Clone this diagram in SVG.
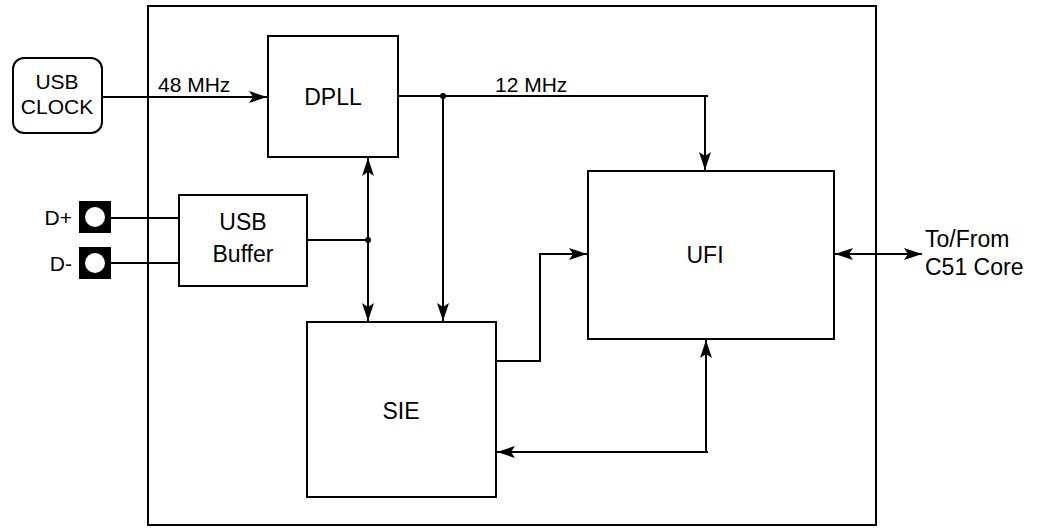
<svg xmlns="http://www.w3.org/2000/svg" width="1043" height="529" viewBox="0 0 1043 529">
<style>
.b{fill:#fff;stroke:#000;stroke-width:2}
.c{fill:none;stroke:#000;stroke-width:2}
.t{font-family:"Liberation Sans",Arial,sans-serif;fill:#000}
.s{font-size:21px}
.l{font-size:23px}
.m{text-anchor:middle}
.e{text-anchor:end}
</style>
<defs>
<marker id="ah" markerUnits="userSpaceOnUse" markerWidth="20" markerHeight="14" viewBox="-19 -7 20 14" refX="0" refY="0" orient="auto-start-reverse">
<path d="M0,0 L-18,-6 L-14,0 L-18,6 Z" fill="#000"/>
</marker>
</defs>
<g id="frame"><rect class="b" x="148" y="6" width="728" height="519"/></g>
<g id="usbclock"><rect class="b" x="13" y="58" width="89" height="75" rx="11"/>
<text class="t s m" x="57" y="89">USB</text><text class="t s m" x="57" y="114">CLOCK</text></g>
<g id="dpll"><rect class="b" x="268" y="36" width="130" height="121"/><text class="t l m" x="333" y="105">DPLL</text></g>
<g id="usbbuffer"><rect class="b" x="179" y="195" width="128" height="91"/>
<text class="t l m" x="243" y="230">USB</text><text class="t l m" x="243" y="262">Buffer</text></g>
<g id="sie"><rect class="b" x="307" y="322" width="189" height="175"/><text class="t l m" x="401" y="419">SIE</text></g>
<g id="ufi"><rect class="b" x="588" y="171" width="246" height="168"/><text class="t l m" x="705" y="263">UFI</text></g>
<g id="dplus"><rect x="79" y="201" width="32" height="32" fill="#000"/><circle cx="95" cy="217" r="10" fill="#fff"/>
<text class="t s e" x="72" y="225">D+</text></g>
<g id="dminus"><rect x="79" y="247" width="32" height="32" fill="#000"/><circle cx="95" cy="263" r="10" fill="#fff"/>
<text class="t s e" x="72" y="271">D-</text></g>
<g id="connectors">
<path class="c" d="M102,97 H267" marker-end="url(#ah)"/>
<text class="t s" x="158" y="92">48 MHz</text>
<path class="c" d="M398,96 H708"/>
<text class="t s" x="495" y="92">12 MHz</text>
<path class="c" d="M705,96 V170" marker-end="url(#ah)"/>
<path class="c" d="M443,96 V321" marker-end="url(#ah)"/>
<circle cx="443" cy="96" r="3" fill="#000"/>
<path class="c" d="M111,218 H179"/>
<path class="c" d="M111,263 H179"/>
<path class="c" d="M307,240 H368"/>
<path class="c" d="M368,158 V321" marker-start="url(#ah)" marker-end="url(#ah)"/>
<circle cx="368" cy="240" r="3" fill="#000"/>
<path class="c" d="M496,361 H540 V254 H587" marker-end="url(#ah)"/>
<path class="c" d="M708,452 H497" marker-end="url(#ah)"/>
<path class="c" d="M706,452 V340" marker-end="url(#ah)"/>
<path class="c" d="M835,254 H922" marker-start="url(#ah)" marker-end="url(#ah)"/>
<text class="t l" x="925" y="247">To/From</text>
<text class="t l" x="925" y="275">C51 Core</text>
</g>
</svg>
